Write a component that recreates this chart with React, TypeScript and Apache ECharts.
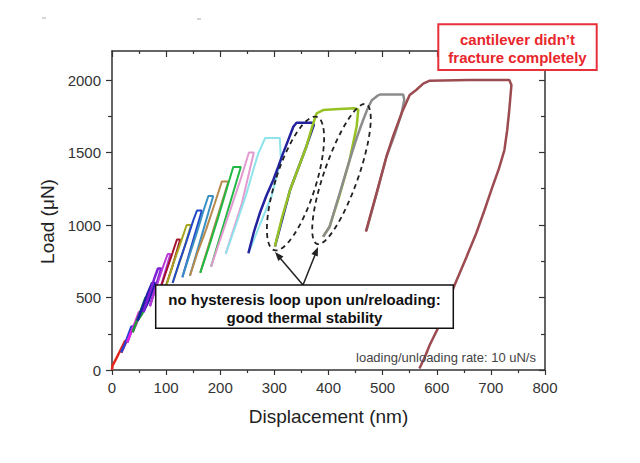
import React, { useEffect, useRef } from 'react';
import * as echarts from 'echarts';

// axis ranges and tick labels
const xTickValues = [0, 100, 200, 300, 400, 500, 600, 700, 800];
const yTickValues = [0, 500, 1000, 1500, 2000];

// peak load of every load/unload cycle (uN) and the colour it was drawn in
const cyclePeaks = [200, 300, 400, 500, 600, 700, 800, 900, 1000, 1100, 1200, 1300, 1400, 1500, 1600, 1700, 1800, 1900, 2000];
const cycleColors = [
  '#e3261d', '#2a3fd6', '#e01fe0', '#1e9a3a', '#1d1dab', '#7d1fd6', '#b83ad6', '#a3102a', '#a6a61e', '#2146c8',
  '#3a8fc3', '#b8894a', '#21b844', '#e39ad0', '#8fe3ea', '#22229e', '#96c224', '#8c8c8c', '#9c4b50',
];

// [displacement (nm), load (uN)]
const cycle200 = [[0, 0], [1, 30], [8, 80], [16, 140], [24, 200], [27, 200], [22, 160], [17, 120]];
const cycle300 = [[17, 120], [24, 180], [30, 240], [36, 300], [39, 300], [33, 240], [28, 190]];
const cycle400 = [[28, 190], [35, 260], [43, 330], [50, 400], [53, 400], [45, 320], [38, 260]];
const cycle500 = [[38, 260], [46, 340], [54, 420], [62, 500], [66, 500], [56, 390], [47, 340]];
const cycle600 = [[47, 340], [56, 430], [65, 520], [74, 600], [80, 600], [68, 480], [58, 400]];
const cycle700 = [[58, 400], [65, 480], [72, 560], [79, 640], [85, 700], [91, 700], [82, 590], [70, 440]];
const cycle800 = [[70, 440], [78, 530], [86, 620], [95, 720], [103, 800], [108, 800], [96, 650], [84, 500]];
const cycle900 = [[84, 500], [92, 590], [102, 700], [112, 810], [120, 900], [126, 900], [112, 720], [97, 550]];
const cycle1000 = [[97, 550], [101, 590], [112, 720], [125, 860], [138, 1000], [146, 1000], [130, 800], [112, 600]];
const cycle1100 = [[112, 600], [124, 740], [137, 880], [150, 1030], [157, 1100], [166, 1100], [148, 870], [130, 640]];
const cycle1200 = [[130, 640], [143, 790], [157, 950], [170, 1110], [178, 1200], [187, 1200], [166, 930], [144, 650]];
const cycle1300 = [[144, 650], [158, 810], [174, 970], [190, 1150], [203, 1300], [215, 1300], [190, 1000], [163, 670]];
const cycle1400 = [[163, 670], [180, 860], [196, 1050], [212, 1250], [224, 1400], [238, 1400], [210, 1050], [183, 712]];
const cycle1500 = [[183, 712], [200, 900], [220, 1120], [238, 1320], [253, 1500], [262, 1500], [240, 1150], [210, 800]];
const cycle1600 = [[210, 800], [228, 990], [248, 1210], [261, 1380], [270, 1490], [283, 1600], [310, 1600], [312, 1448], [295, 1200], [273, 1000], [252, 805]];
const cycle1700 = [[252, 805], [262, 950], [273, 1081], [285, 1200], [298, 1310], [307, 1400], [316, 1494], [325, 1580], [335, 1678], [341, 1705], [370, 1705], [373, 1690], [359, 1540], [329, 1241], [301, 852]];
const cycle1800 = [[301, 852], [314, 1050], [329, 1241], [345, 1400], [359, 1540], [370, 1680], [378, 1770], [390, 1793], [420, 1800], [448, 1805], [455, 1795], [452, 1680], [439, 1448], [420, 1200], [402, 988], [390, 920]];
const cycle1900 = [[390, 919], [402, 988], [420, 1210], [439, 1448], [452, 1600], [464, 1724], [472, 1800], [480, 1860], [490, 1890], [495, 1900], [538, 1900], [540, 1862], [535, 1770], [522, 1620], [507, 1471], [490, 1230], [470, 960]];
const cycle2000 = [[469, 954], [488, 1210], [507, 1471], [520, 1620], [535, 1770], [550, 1897], [562, 1931], [575, 1975], [587, 1995], [660, 2000], [734, 2000], [738, 1966], [736, 1880], [734, 1793], [730, 1650], [725, 1517], [715, 1390], [703, 1264], [688, 1100], [673, 943], [655, 780], [633, 586], [618, 440], [602, 287], [587, 172], [578, 90], [568, 10]];

const cycles = [
  cycle200, cycle300, cycle400, cycle500, cycle600, cycle700, cycle800, cycle900, cycle1000, cycle1100,
  cycle1200, cycle1300, cycle1400, cycle1500, cycle1600, cycle1700, cycle1800, cycle1900, cycle2000,
];

const FONT = '"Liberation Sans", Arial, Helvetica, sans-serif';
const axisColor = '#333';

const App: React.FC = () => {
  const chartRef = useRef<HTMLDivElement | null>(null);

  useEffect(() => {
    if (!chartRef.current) return;
    const myChart = echarts.init(chartRef.current, null, { renderer: 'svg' });

    const lineStyle = { color: axisColor, width: 1.5 };
    const tickStyle = { color: axisColor, width: 1.2 };
    const label = { fontFamily: FONT, fontSize: 15, color: '#333' };

    const series = cycles.map((pts, i) => ({
      name: cyclePeaks[i] + ' uN',
      type: 'line',
      data: pts,
      showSymbol: false,
      symbol: 'none',
      clip: true,
      xAxisIndex: 0,
      yAxisIndex: 0,
      lineStyle: { color: cycleColors[i], width: cyclePeaks[i] >= 1700 || cyclePeaks[i] <= 700 ? 2.5 : 2 },
      itemStyle: { color: cycleColors[i] },
    }));

    const txt = (text: string, x: number, y: number, font: string, fill: string, rotation = 0) => ({
      type: 'text',
      x,
      y,
      rotation,
      z: 101,
      style: {
        text,
        font,
        fill,
        align: 'center',
        verticalAlign: 'middle',
        textAlign: 'center',
        textVerticalAlign: 'middle',
      },
    });

    const dash = { fill: 'none', stroke: '#222', lineWidth: 1.8, lineDash: [5, 4] };
    const arrow = { stroke: '#222', lineWidth: 1.5 };

    const option = {
      animation: false,
      backgroundColor: '#ffffff',
      grid: { left: 112, top: 51, width: 433, height: 319, containLabel: false, outerBoundsMode: 'none' },
      xAxis: [
        {
          type: 'value', position: 'bottom', min: 0, max: 800, interval: 100,
          axisLine: { show: true, onZero: false, lineStyle },
          axisTick: { show: true, length: 5, lineStyle: tickStyle },
          minorTick: { show: true, splitNumber: 2, length: 3, lineStyle: tickStyle },
          axisLabel: { ...label, margin: 10, formatter: (v: number) => (xTickValues.includes(v) ? String(v) : '') },
          splitLine: { show: false },
        },
        {
          type: 'value', position: 'top', min: 0, max: 800, interval: 100,
          axisLine: { show: true, onZero: false, lineStyle },
          axisTick: { show: true, inside: true, length: 6, lineStyle: tickStyle },
          minorTick: { show: true, splitNumber: 2, length: 3, lineStyle: tickStyle },
          axisLabel: { show: false },
          splitLine: { show: false },
        },
      ],
      yAxis: [
        {
          type: 'value', position: 'left', min: 0, max: 2200, interval: 500,
          axisLine: { show: true, onZero: false, lineStyle },
          axisTick: { show: true, length: 6, lineStyle: tickStyle, customValues: yTickValues },
          minorTick: { show: true, splitNumber: 2, length: 4, lineStyle: tickStyle },
          axisLabel: { ...label, margin: 11, customValues: yTickValues, formatter: (v: number) => (yTickValues.includes(v) ? String(v) : '') },
          splitLine: { show: false },
        },
        {
          type: 'value', position: 'right', min: 0, max: 2200, interval: 500,
          axisLine: { show: true, onZero: false, lineStyle },
          axisTick: { show: true, inside: true, length: 6, lineStyle: tickStyle, customValues: yTickValues },
          minorTick: { show: true, splitNumber: 2, length: 4, lineStyle: tickStyle },
          axisLabel: { show: false },
          splitLine: { show: false },
        },
      ],
      series,
      graphic: [
        // stray marks at the top of the scan
        { type: 'line', z: 100, shape: { x1: 42, y1: 18, x2: 46, y2: 18 }, style: { stroke: '#aaa', lineWidth: 1 } },
        { type: 'line', z: 100, shape: { x1: 197, y1: 19, x2: 201, y2: 19 }, style: { stroke: '#aaa', lineWidth: 1 } },
        // dashed ellipses round the two loops
        { type: 'ellipse', z: 100, x: 295.5, y: 183.5, rotation: -0.31, shape: { cx: 0, cy: 0, rx: 20, ry: 70 }, style: dash },
        { type: 'ellipse', z: 100, x: 341.5, y: 174, rotation: -0.337, shape: { cx: 0, cy: 0, rx: 17, ry: 74 }, style: dash },
        // arrows
        { type: 'line', z: 100, shape: { x1: 303, y1: 285, x2: 280, y2: 258 }, style: arrow },
        { type: 'line', z: 100, shape: { x1: 303, y1: 285, x2: 315, y2: 255 }, style: arrow },
        { type: 'polygon', z: 100, shape: { points: [[275, 252], [283.5, 256.5], [278.3, 261.1]] }, style: { fill: '#222' } },
        { type: 'polygon', z: 100, shape: { points: [[318, 247], [317.8, 256.6], [311.4, 254]] }, style: { fill: '#222' } },
        // annotation box
        { type: 'rect', z: 100, shape: { x: 155.7, y: 285, width: 297.6, height: 43.3 }, style: { fill: '#fff', stroke: '#111', lineWidth: 1.5 } },
        txt('no hysteresis loop upon un/reloading:', 304.5, 299.5, `bold 15px ${FONT}`, '#111'),
        txt('good thermal stability', 304.5, 317, `bold 15px ${FONT}`, '#111'),
        // red note
        { type: 'rect', z: 100, shape: { x: 438.3, y: 24.3, width: 158.4, height: 45.7 }, style: { fill: '#fff', stroke: '#e8303a', lineWidth: 2 } },
        txt('cantilever didn\u2019t', 517.5, 39.5, `bold 15px ${FONT}`, '#e8262b'),
        txt('fracture completely', 517.5, 57, `bold 15px ${FONT}`, '#e8262b'),
        txt('loading/unloading rate: 10 uN/s', 446, 357.5, `13px ${FONT}`, '#444'),
        // axis titles
        txt('Displacement (nm)', 328.5, 416.5, `19px ${FONT}`, '#222'),
        txt('Load (\u03bcN)', 47, 221.5, `19px ${FONT}`, '#222', Math.PI / 2),
      ],
    };

    myChart.setOption(option as any);

    return () => {
      myChart.dispose();
    };
  }, []);

  return <div ref={chartRef} style={{ position: 'absolute', left: 0, top: 0, width: 640, height: 463 }} />;
};

export default App;
